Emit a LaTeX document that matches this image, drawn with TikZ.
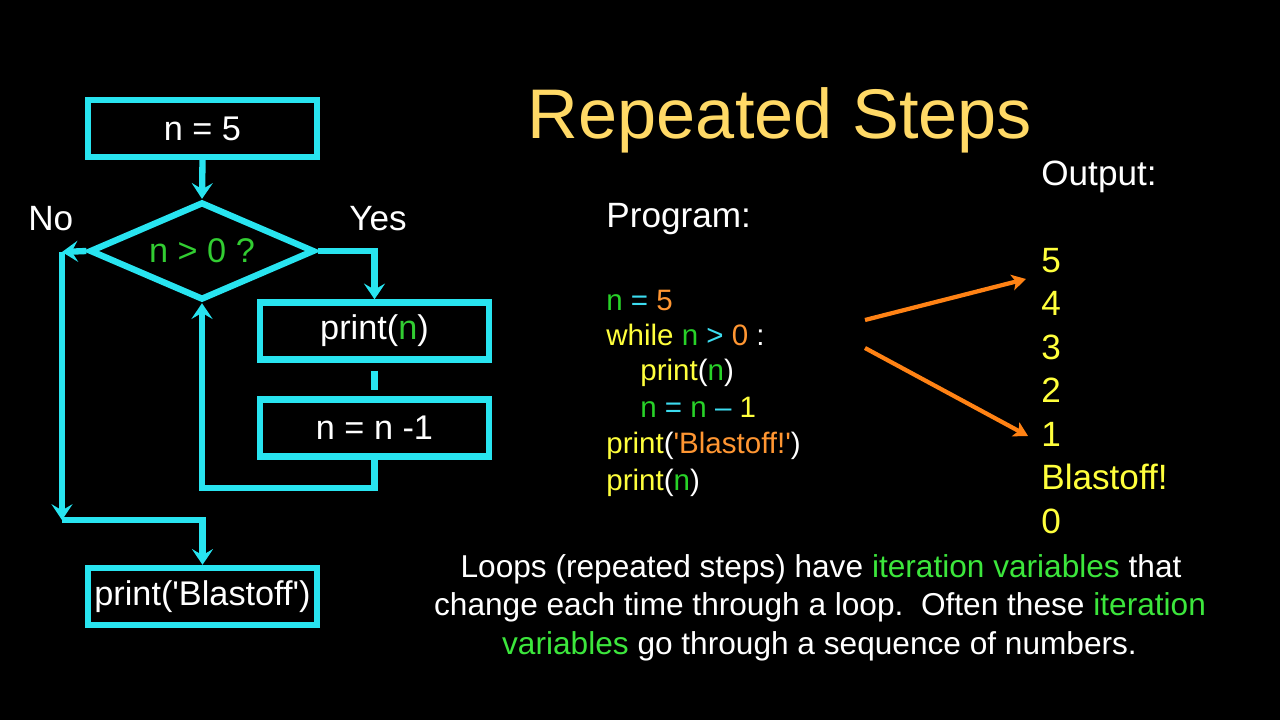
\documentclass[tikz,border=0pt]{standalone}
\usepackage{fontspec}
\setmainfont{Liberation Sans}
\usetikzlibrary{shapes.geometric,arrows.meta}
\definecolor{cy}{RGB}{40,228,240}
\definecolor{fgreen}{RGB}{50,205,50}
\definecolor{bgreen}{RGB}{60,230,60}
\definecolor{cgreen}{RGB}{40,210,40}
\definecolor{cyel}{RGB}{255,255,60}
\definecolor{corange}{RGB}{255,150,50}
\definecolor{aorange}{RGB}{255,130,20}
\definecolor{ccyan}{RGB}{60,220,240}
\definecolor{titlecol}{RGB}{255,217,102}
\newcommand{\fsz}[2]{\fontsize{#1pt}{#2pt}\selectfont}
\newcommand{\sq}{\XeTeXglyph\XeTeXcharglyph"27\relax}
\begin{document}
\begin{tikzpicture}[x=0.02cm,y=-0.02cm,
  box/.style={draw=cy,line width=3.6pt,minimum width=4.58cm,minimum height=1.14cm,inner sep=0pt,text=white,font=\fsz{19.5}{23}},
  dia/.style={draw=cy,line width=3.6pt,diamond,aspect=2.3,minimum width=4.5cm,minimum height=1.96cm,inner sep=0pt,font=\fsz{19.5}{23}},
  flow/.style={draw=cy,line width=3.6pt,-{Stealth[length=9pt,width=12pt,inset=3.5pt]}},
  cline/.style={draw=cy,line width=3.6pt},
  oarrow/.style={draw=aorange,line width=2.4pt,-{Stealth[length=8pt,width=9pt,inset=2pt]}},
  lbl/.style={anchor=base west,inner sep=0pt,text=white,font=\fsz{20}{24}},
  code/.style={anchor=base west,inner sep=0pt,text=white,font=\fsz{16.8}{20}},
  outl/.style={anchor=base west,inner sep=0pt,text=cyel,font=\fsz{20}{24}},
  btxt/.style={anchor=base,inner sep=0pt,text=white,font=\fsz{18}{22}}]
\fill[black] (0,0) rectangle (1280,720);

% flowchart
\node[box] (b1) at (202.5,128.5) {n = 5};
\node[dia] (dec) at (202,251) {\textcolor{fgreen}{n > 0 ?}};
\node[box] (b2) at (374.5,331) {print(\textcolor{fgreen}{n})};
\node[box] (b3) at (374.5,428) {n = n -1};
\node[box] (b4) at (202.5,596.5) {print(\sq Blastoff\sq)};

\coordinate (noC) at (62,252);
\coordinate (noD) at (62,520);
\coordinate (loopB) at (202,488);

\draw[flow] (b1.south) -- (dec.north);
\draw[flow] (dec.west) -- (noC);
\draw[flow] (noC) -- (noD);
\draw[flow] (noD) -| (b4.north);
\draw[flow] (dec.east) -| (b2.north);
\draw[cline,shorten <=4.5pt,shorten >=3.4pt] (b2.south) -- (b3.north);
\draw[flow] (b3.south) |- (loopB) -- (dec.south);

\node[lbl] (no) at (28,230) {No};
\node[lbl] (yes) at (349,230) {Yes};

% title
\node[anchor=base,inner sep=0pt,text=titlecol,font=\fsz{40}{48}] (title) at (780,138) {Repeated Steps};

% program
\node[lbl] (prog) at (606,227) {Program:};
\node[code] (c1) at (606,310) {\textcolor{cgreen}{n} \textcolor{ccyan}{=} \textcolor{corange}{5}};
\node[code] (c2) at (606,345) {\textcolor{cyel}{while} \textcolor{cgreen}{n} \textcolor{ccyan}{>} \textcolor{corange}{0} :};
\node[code] (c3) at (640,380) {\textcolor{cyel}{print}(\textcolor{cgreen}{n})};
\node[code] (c4) at (640,417) {\textcolor{cgreen}{n} \textcolor{ccyan}{=} \textcolor{cgreen}{n} \textcolor{ccyan}{–} \textcolor{cyel}{1}};
\node[code] (c5) at (606,453) {\textcolor{cyel}{print}(\textcolor{corange}{\sq Blastoff!\sq})};
\node[code] (c6) at (606,490) {\textcolor{cyel}{print}(\textcolor{cgreen}{n})};

% output
\node[lbl] (outh) at (1041,185) {Output:};
\node[outl] (o1) at (1041,272) {5};
\node[outl] (o2) at (1041,315.5) {4};
\node[outl] (o3) at (1041,359) {3};
\node[outl] (o4) at (1041,402.5) {2};
\node[outl] (o5) at (1041,446) {1};
\node[outl] (o6) at (1041,489.5) {Blastoff!};
\node[outl] (o7) at (1041,533) {0};

\coordinate (oa1) at (865,320);
\coordinate (oa2) at (1026,279);
\coordinate (ob1) at (865,348);
\coordinate (ob2) at (1028,436);
\draw[oarrow] (oa1) -- (oa2);
\draw[oarrow] (ob1) -- (ob2);

% bottom text
\node[btxt] (t1) at (821,577) {Loops (repeated steps) have \textcolor{bgreen}{iteration variables} that};
\node[btxt] (t2) at (820,615.5) {change each time through a loop.\ \ Often these \textcolor{bgreen}{iteration}};
\node[btxt] (t3) at (819.5,654) {\textcolor{bgreen}{variables} go through a sequence of numbers.};
\end{tikzpicture}
\end{document}
